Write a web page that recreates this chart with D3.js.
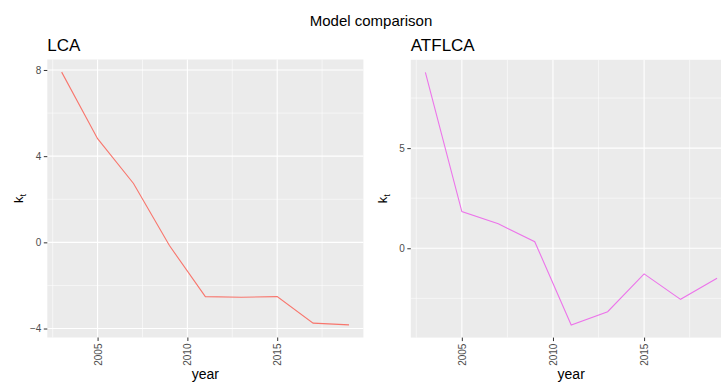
<!DOCTYPE html>
<html>
<head>
<meta charset="utf-8">
<script src="https://cdn.jsdelivr.net/npm/d3@7"></script>
<style>
  html, body { margin: 0; padding: 0; background: #fff; }
  svg { display: block; font-family: "Liberation Sans", Arial, sans-serif; }
</style>
</head>
<body>
<svg id="chart" width="721" height="383"></svg>
<script>
// Period index k_t by model, odd years 2003–2019
const years = [2003, 2005, 2007, 2009, 2011, 2013, 2015, 2017, 2019];
const lcaKt = [7.9, 4.81, 2.73, -0.15, -2.52, -2.55, -2.52, -3.75, -3.83];
const atflcaKt = [8.78, 1.83, 1.22, 0.33, -3.83, -3.17, -1.28, -2.55, -1.5];

const xMajor = [2005, 2010, 2015];
const xMinor = [2002.5, 2007.5, 2012.5, 2017.5];
const lcaYMajor = [-4, 0, 4, 8];
const lcaYMinor = [-2, 2, 6];
const atflcaYMajor = [0, 5];
const atflcaYMinor = [-2.5, 2.5, 7.5];

const svg = d3.select("#chart");

svg.append("text")
  .attr("x", 371).attr("y", 26)
  .attr("text-anchor", "middle")
  .attr("font-size", 15).attr("fill", "#000")
  .text("Model comparison");

function expand(lo, hi, f) {
  const r = hi - lo;
  return [lo - r * f, hi + r * f];
}

function panel(opts) {
  const { title, values, color, left, right, top, bottom, yMajor, yMinor } = opts;
  const x = d3.scaleLinear()
    .domain(expand(d3.min(years), d3.max(years), 0.05))
    .range([left, right]);
  const [lo, hi] = d3.extent(values);
  const y = d3.scaleLinear()
    .domain(expand(lo, hi, 0.05))
    .range([bottom, top]);

  const g = svg.append("g");

  g.append("text")
    .attr("x", left).attr("y", 51)
    .attr("font-size", 17).attr("fill", "#000")
    .text(title);

  g.append("rect")
    .attr("x", left).attr("y", top)
    .attr("width", right - left).attr("height", bottom - top)
    .attr("fill", "#EBEBEB");

  const grid = g.append("g").attr("stroke", "#fff").attr("fill", "none");
  grid.selectAll(".ymin").data(yMinor).join("line")
    .attr("x1", left).attr("x2", right)
    .attr("y1", d => y(d)).attr("y2", d => y(d))
    .attr("stroke-width", 0.55);
  grid.selectAll(".xmin").data(xMinor).join("line")
    .attr("y1", top).attr("y2", bottom)
    .attr("x1", d => x(d)).attr("x2", d => x(d))
    .attr("stroke-width", 0.55);
  grid.selectAll(".ymaj").data(yMajor).join("line")
    .attr("x1", left).attr("x2", right)
    .attr("y1", d => y(d)).attr("y2", d => y(d))
    .attr("stroke-width", 1.1);
  grid.selectAll(".xmaj").data(xMajor).join("line")
    .attr("y1", top).attr("y2", bottom)
    .attr("x1", d => x(d)).attr("x2", d => x(d))
    .attr("stroke-width", 1.1);

  const line = d3.line()
    .x((d, i) => x(years[i]))
    .y(d => y(d));
  g.append("path")
    .datum(values)
    .attr("d", line)
    .attr("fill", "none")
    .attr("stroke", color)
    .attr("stroke-width", 1.1);

  // y axis
  const yAxis = g.append("g")
    .attr("transform", `translate(${left},0)`)
    .call(d3.axisLeft(y).tickValues(yMajor).tickSize(3.5).tickPadding(2.5)
      .tickFormat(d => d < 0 ? "\u2212" + Math.abs(d) : d));
  yAxis.select(".domain").remove();
  yAxis.selectAll(".tick line").attr("stroke", "#333");
  yAxis.selectAll(".tick text")
    .attr("fill", "#4D4D4D").attr("font-size", 10)
    .attr("font-family", "Liberation Sans, Arial, sans-serif");

  // x axis
  const xAxis = g.append("g")
    .attr("transform", `translate(0,${bottom})`)
    .call(d3.axisBottom(x).tickValues(xMajor).tickSize(3.5).tickFormat(d3.format("d")));
  xAxis.select(".domain").remove();
  xAxis.selectAll(".tick line").attr("stroke", "#333");
  xAxis.selectAll(".tick text")
    .attr("fill", "#4D4D4D").attr("font-size", 10)
    .attr("font-family", "Liberation Sans, Arial, sans-serif")
    .attr("transform", "rotate(-90)")
    .attr("text-anchor", "end")
    .attr("x", -6).attr("y", 0).attr("dy", "0.35em");

  // axis titles
  g.append("text")
    .attr("x", (left + right) / 2).attr("y", 379)
    .attr("text-anchor", "middle")
    .attr("font-size", 14).attr("fill", "#000")
    .text("year");

  const yl = g.append("text")
    .attr("transform", `translate(${left - 24},${(top + bottom) / 2}) rotate(-90)`)
    .attr("text-anchor", "middle")
    .attr("font-size", 13).attr("fill", "#000");
  yl.append("tspan").text("k");
  yl.append("tspan").attr("font-size", 9).attr("dy", 3).text("t");
}

panel({
  title: "LCA", values: lcaKt, color: "#F8766D",
  left: 47.3, right: 363.4, top: 59.5, bottom: 337.5,
  yMajor: lcaYMajor, yMinor: lcaYMinor
});

panel({
  title: "ATFLCA", values: atflcaKt, color: "#EC74EA",
  left: 410.8, right: 731.6, top: 59.8, bottom: 337.6,
  yMajor: atflcaYMajor, yMinor: atflcaYMinor
});
</script>
</body>
</html>
